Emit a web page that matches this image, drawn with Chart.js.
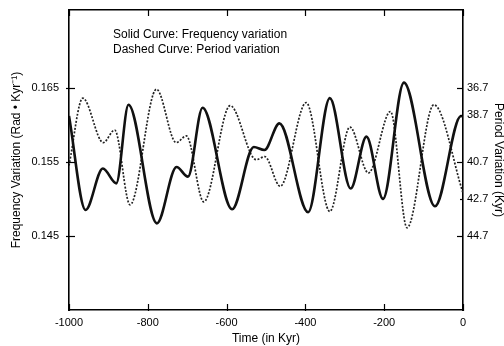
<!DOCTYPE html>
<html>
<head>
<meta charset="utf-8">
<script src="https://cdn.jsdelivr.net/npm/chart.js@4.4.0/dist/chart.umd.min.js"></script>
<style>
  html, body { margin: 0; padding: 0; background: #fff; }
  #wrap { position: relative; width: 504px; height: 346px; }
</style>
</head>
<body>
<div id="wrap"><canvas id="myChart"></canvas></div>
<script>
// solid curve: frequency variation (Rad / Kyr)
const solidTime = [-1000, -958, -914, -880, -849, -777, -727, -698, -661, -586, -531, -504, -466, -393, -338, -285, -245, -203, -150, -71, -5, 0];
const solidFreq = [0.1612, 0.1485, 0.1541, 0.1521, 0.1627, 0.1467, 0.1543, 0.1530, 0.1623, 0.1486, 0.1570, 0.1566, 0.1602, 0.1482, 0.1636, 0.1514, 0.1584, 0.1500, 0.1657, 0.1490, 0.1612, 0.1611];

// dashed curve: period variation, plotted on the right hand scale
const dashedTime = [-1000, -965, -913, -884, -845, -778, -728, -702, -658, -591, -525, -503, -464, -398, -338, -287, -240, -184, -142, -74, 0];
const dashedPeriod = [0.1545, 0.1636, 0.1576, 0.1593, 0.1492, 0.1648, 0.1576, 0.1585, 0.1496, 0.1626, 0.1553, 0.1557, 0.1517, 0.1630, 0.1483, 0.1597, 0.1535, 0.1618, 0.1461, 0.1627, 0.1508];

const xMajor = [-1000, -800, -600, -400, -200, 0];
const freqTicks = [0.145, 0.155, 0.165];
const periodTickPos = [0.165, 0.1613, 0.155, 0.150, 0.145];
const periodTickLabels = ['36.7', '38.7', '40.7', '42.7', '44.7'];
const notes = ['Solid Curve: Frequency variation', 'Dashed Curve: Period variation'];

Chart.defaults.font.family = "'Liberation Sans', Arial, sans-serif";
Chart.defaults.font.size = 11;
Chart.defaults.color = '#000';

function near(list, v) {
  return list.findIndex(t => Math.abs(t - v) < 1e-7);
}

// small inward tick marks on all four sides, plus the two note lines
const inwardTicks = {
  id: 'inwardTicks',
  afterDraw(chart) {
    const ctx = chart.ctx;
    const a = chart.chartArea;
    const s = chart.scales;
    ctx.save();
    ctx.strokeStyle = '#000';
    ctx.lineWidth = 1.2;
    const mark = (x1, y1, x2, y2) => {
      ctx.beginPath(); ctx.moveTo(x1, y1); ctx.lineTo(x2, y2); ctx.stroke();
    };
    s.x.ticks.forEach(t => {
      const px = Math.round(s.x.getPixelForValue(t.value)) + 0.5;
      const big = near(xMajor, t.value) >= 0;
      mark(px, a.bottom + (big ? 1 : 0), px, a.bottom - (big ? 6 : 3));
      mark(px, a.top, px, a.top + (big ? 6 : 3));
    });
    s.y.ticks.forEach(t => {
      const py = Math.round(s.y.getPixelForValue(t.value)) + 0.5;
      const big = near(freqTicks, t.value) >= 0;
      mark(a.left - (big ? 3 : 0), py, a.left + (big ? 6 : 3), py);
    });
    s.y2.ticks.forEach(t => {
      const py = Math.round(s.y2.getPixelForValue(t.value)) + 0.5;
      const i = near(periodTickPos, t.value);
      const big = i === 0 || i === 2 || i === 4;
      mark(a.right, py, a.right - (big ? 6 : 3), py);
    });
    ctx.fillStyle = '#000';
    ctx.font = "12px 'Liberation Sans', Arial, sans-serif";
    ctx.textBaseline = 'middle';
    notes.forEach((t, i) => ctx.fillText(t, a.left + 44, a.top + 25 + i * 15));
    ctx.restore();
  }
};

const frame = { color: '#000', width: 1.6 };
const titleFont = { size: 12 };
// the library's own ticks only serve as spacing for the labels
const hiddenTicks = len => ({ drawOnChartArea: false, drawTicks: true, tickLength: len, tickColor: 'rgba(0,0,0,0)' });

new Chart(document.getElementById('myChart'), {
  type: 'line',
  data: {
    datasets: [{
      label: 'Frequency variation',
      data: solidTime.map((t, i) => ({ x: t, y: solidFreq[i] })),
      borderColor: '#111',
      borderWidth: 2.6,
      pointRadius: 0,
      cubicInterpolationMode: 'monotone',
      yAxisID: 'y'
    }, {
      label: 'Period variation',
      data: dashedTime.map((t, i) => ({ x: t, y: dashedPeriod[i] })),
      borderColor: '#222',
      borderWidth: 1.7,
      borderDash: [2, 1.6],
      pointRadius: 0,
      cubicInterpolationMode: 'monotone',
      yAxisID: 'y2'
    }]
  },
  options: {
    responsive: true,
    maintainAspectRatio: false,
    animation: false,
    layout: { padding: 0 },
    plugins: { legend: { display: false }, tooltip: { enabled: false } },
    scales: {
      x: {
        type: 'linear', position: 'bottom', min: -1000, max: 0,
        afterFit: sc => { sc.height = 36; },
        grid: hiddenTicks(6),
        border: frame,
        ticks: {
          stepSize: 50, autoSkip: false, maxRotation: 0, padding: 0,
          callback: v => near(xMajor, v) >= 0 ? String(Math.round(v)) : null
        },
        title: { display: true, text: 'Time (in Kyr)', font: titleFont, padding: { top: 0, bottom: 0 } }
      },
      x2: {
        type: 'linear', position: 'top', min: -1000, max: 0,
        afterFit: sc => { sc.height = 10; },
        grid: { drawOnChartArea: false, drawTicks: false },
        border: frame,
        ticks: { display: false, stepSize: 50, autoSkip: false }
      },
      y: {
        type: 'linear', position: 'left', min: 0.135, max: 0.1755,
        afterFit: sc => { sc.width = 69; },
        grid: hiddenTicks(10),
        border: frame,
        ticks: {
          stepSize: 0.001, autoSkip: false, padding: 0,
          callback: v => near(freqTicks, v) >= 0 ? v.toFixed(3) : null
        },
        title: { display: true, text: 'Frequency Variation (Rad \u2022 Kyr\u207B\u00B9)', font: titleFont, padding: { top: 9, bottom: 0 } }
      },
      y2: {
        type: 'linear', position: 'right', min: 0.135, max: 0.1755,
        afterFit: sc => { sc.width = 41; },
        afterBuildTicks: sc => {
          const extra = periodTickPos.filter(p => !sc.ticks.some(t => Math.abs(t.value - p) < 1e-7));
          sc.ticks = sc.ticks.concat(extra.map(v => ({ value: v }))).sort((a, b) => a.value - b.value);
        },
        grid: hiddenTicks(4),
        border: frame,
        ticks: {
          stepSize: 0.001, autoSkip: false, padding: 0,
          callback: v => { const i = near(periodTickPos, v); return i >= 0 ? periodTickLabels[i] : null; }
        },
        title: { display: true, text: 'Period Variation (Kyr)', font: titleFont, padding: { top: -2, bottom: 0 } }
      }
    }
  },
  plugins: [inwardTicks]
});
</script>
</body>
</html>
